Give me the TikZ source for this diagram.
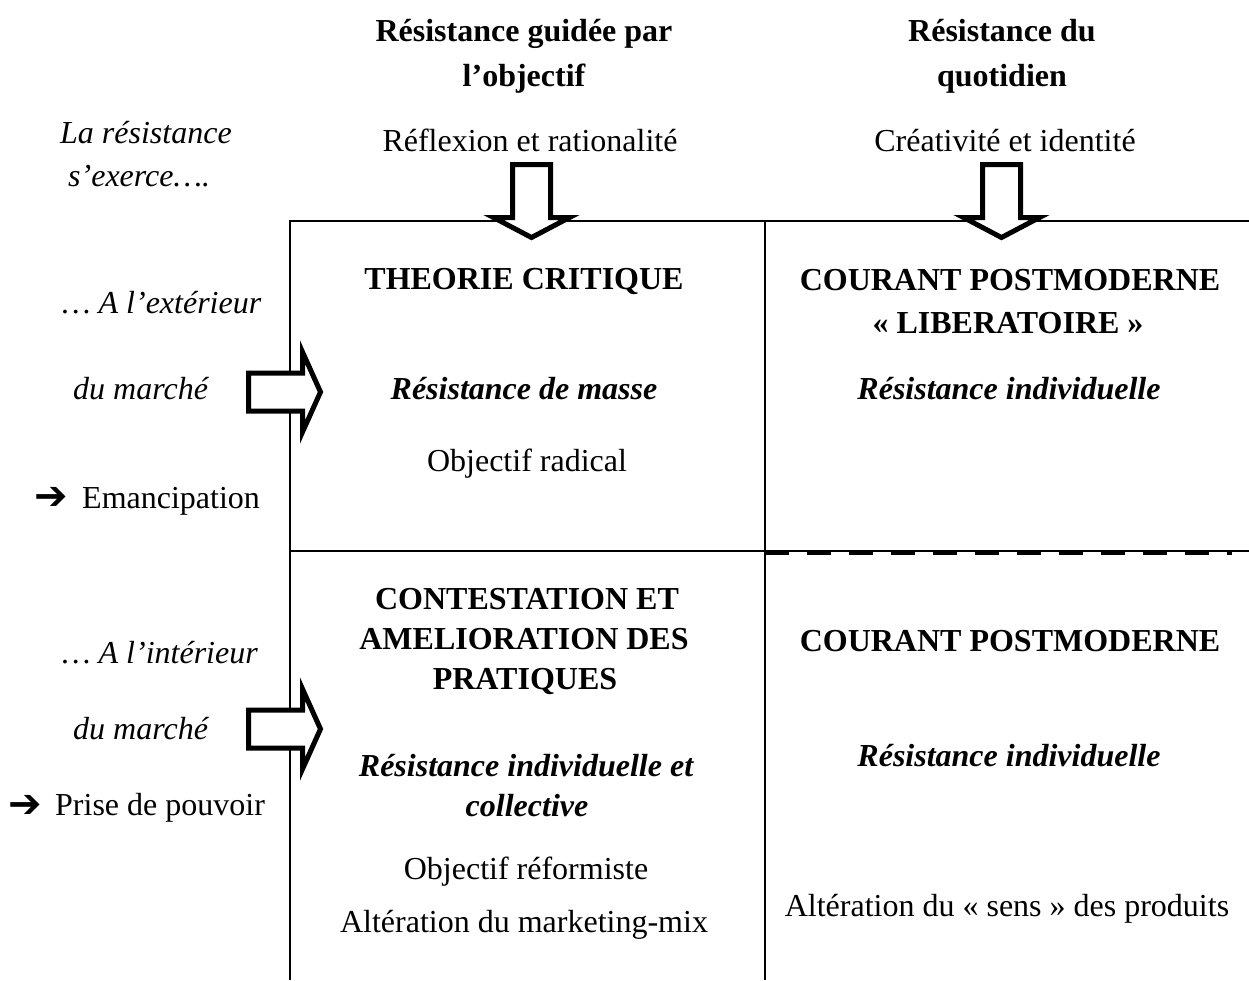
\documentclass[tikz,border=0pt]{standalone}
\usepackage{fontspec}
\setmainfont{Liberation Serif}
\newfontfamily\dingfont{DejaVu Sans}
\begin{document}
\begin{tikzpicture}[x=1pt,y=-1pt,
  txt/.style={anchor=base,inner sep=0pt,font=\fontsize{32}{40}\selectfont},
  hd/.style={txt,font=\fontsize{32}{40}\selectfont\bfseries},
  emph/.style={txt,font=\fontsize{32}{40}\selectfont\itshape},
  bemph/.style={txt,font=\fontsize{32}{40}\selectfont\bfseries\itshape},
  ding/.style={anchor=base west,inner sep=0pt,font=\fontsize{40}{40}\dingfont},
  gridline/.style={line width=2.5pt},
  blockarrow/.style={draw,fill=white,line width=5pt,line join=miter}]
\useasboundingbox (0,0) rectangle (1249,980);

% grid of the four cells
\draw[gridline] (290,980) -- (290,221) -- (1249,221);
\draw[gridline] (765,221) -- (765,980);
\draw[gridline] (290,551) -- (1249,551);
\draw[line width=5.5pt,dash pattern=on 24pt off 18pt] (765,552.3) -- (1232,552.3);

% block arrows pointing into the grid
\foreach \cx in {531.5,1001.5}
  \draw[blockarrow] (\cx-19,164.5) -- (\cx+19,164.5) -- (\cx+19,217.5) -- (\cx+38,217.5)
    -- (\cx,237.5) -- (\cx-38,217.5) -- (\cx-19,217.5) -- cycle;
\foreach \cy in {392,729}
  \draw[blockarrow] (248.5,\cy-19) -- (248.5,\cy+19) -- (302.5,\cy+19) -- (302.5,\cy+40)
    -- (320.5,\cy) -- (302.5,\cy-40) -- (302.5,\cy-19) -- cycle;

% column headings
\node[hd] (h1a) at (524,41) {Résistance guidée par};
\node[hd] (h1b) at (524,86) {l’objectif};
\node[hd] (h2a) at (1002,41) {Résistance du};
\node[hd] (h2b) at (1002,86) {quotidien};
\node[txt] (m1) at (530,151) {Réflexion et rationalité};
\node[txt] (m2) at (1005,151) {Créativité et identité};

% row headings
\node[emph,anchor=base west] (r0a) at (60,143) {La résistance};
\node[emph,anchor=base west] (r0b) at (68,186) {s’exerce….};
\node[emph,anchor=base west] (r1a) at (62,313) {… A l’extérieur};
\node[emph,anchor=base west] (r1b) at (73,399) {du marché};
\node[ding] (r1d) at (34,509) {➔};
\node[txt,anchor=base west] (r1c) at (82,508) {Emancipation};
\node[emph,anchor=base west] (r2a) at (62,663) {… A l’intérieur};
\node[emph,anchor=base west] (r2b) at (73,739) {du marché};
\node[ding] (r2d) at (8,817) {➔};
\node[txt,anchor=base west] (r2c) at (55,815) {Prise de pouvoir};

% cell: outside the market, goal-driven
\node[hd] (a1) at (524,289) {THEORIE CRITIQUE};
\node[bemph] (a2) at (524,399) {Résistance de masse};
\node[txt] (a3) at (527,471) {Objectif radical};

% cell: outside the market, everyday
\node[hd] (b1) at (1010,290) {COURANT POSTMODERNE};
\node[hd] (b2) at (1008,333) {«~LIBERATOIRE~»};
\node[bemph] (b3) at (1009,399) {Résistance individuelle};

% cell: inside the market, goal-driven
\node[hd] (c1) at (527,609) {CONTESTATION ET};
\node[hd] (c2) at (524,649) {AMELIORATION DES};
\node[hd] (c3) at (525,689) {PRATIQUES};
\node[bemph] (c4) at (526,776) {Résistance individuelle et};
\node[bemph] (c5) at (527,816) {collective};
\node[txt] (c6) at (526,879) {Objectif réformiste};
\node[txt] (c7) at (524,932) {Altération du marketing-mix};

% cell: inside the market, everyday
\node[hd] (d1) at (1010,651) {COURANT POSTMODERNE};
\node[bemph] (d2) at (1009,766) {Résistance individuelle};
\node[txt] (d3) at (1007,916) {Altération du «~sens~» des produits};
\end{tikzpicture}
\end{document}
